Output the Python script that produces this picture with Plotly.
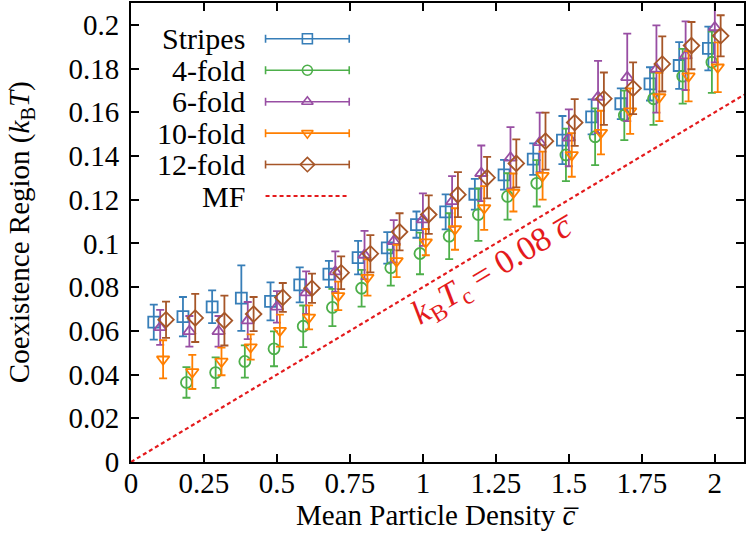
import numpy as np
import plotly.graph_objects as go

# mean particle density (bin centres)
density = [round(0.1 * i, 1) for i in range(1, 21)]

stripes = [0.064, 0.0665, 0.071, 0.075, 0.0735, 0.081, 0.086, 0.0935, 0.098, 0.1086,
           0.1144, 0.1225, 0.1314, 0.1386, 0.1473, 0.1579, 0.1639, 0.173, 0.1814, 0.1892]
stripes_err = [0.008, 0.009, 0.0075, 0.015, 0.0087, 0.008, 0.006, 0.0077, 0.0072, 0.006,
               0.008, 0.007, 0.0068, 0.0072, 0.011, 0.008, 0.007, 0.0076, 0.0107, 0.010]

# 4-fold has no point at 0.1
fold4 = [None, 0.0364, 0.0409, 0.046, 0.0518, 0.0621, 0.0707, 0.0795, 0.0889, 0.0954,
         0.1033, 0.1132, 0.1215, 0.1275, 0.1405, 0.1488, 0.1586, 0.1662, 0.1765, 0.1829]
fold4_err = [None, 0.007, 0.007, 0.0074, 0.008, 0.0095, 0.0085, 0.0084, 0.0082, 0.0095,
             0.0105, 0.012, 0.0106, 0.0106, 0.012, 0.013, 0.0113, 0.012, 0.0125, 0.014]

fold6 = [0.0616, 0.0598, 0.0598, 0.0647, 0.071, 0.0775, 0.0871, 0.0947, 0.101, 0.1109,
         0.1192, 0.1321, 0.1392, 0.1462, 0.1483, 0.167, 0.176, 0.1798, 0.1859, 0.1988]
fold6_err = [0.008, 0.007, 0.007, 0.0085, 0.0072, 0.0097, 0.0093, 0.011, 0.0097, 0.012,
             0.0116, 0.0127, 0.014, 0.0136, 0.013, 0.0165, 0.02, 0.02, 0.0157, 0.016]

fold10 = [0.047, 0.0412, 0.046, 0.0526, 0.0601, 0.0662, 0.076, 0.0844, 0.092, 0.1006,
          0.1066, 0.1162, 0.1233, 0.131, 0.1405, 0.1507, 0.1605, 0.167, 0.1765, 0.1806]
fold10_err = [0.0087, 0.0078, 0.0063, 0.0058, 0.0073, 0.0055, 0.0065, 0.0083, 0.0074, 0.006,
              0.0095, 0.01, 0.0087, 0.011, 0.01, 0.01, 0.0104, 0.011, 0.0115, 0.0114]

fold12 = [0.0651, 0.0659, 0.0647, 0.0677, 0.0753, 0.0795, 0.0866, 0.0953, 0.1053, 0.1132,
          0.1223, 0.1301, 0.1366, 0.1468, 0.1553, 0.1662, 0.171, 0.1821, 0.1905, 0.195]
fold12_err = [0.0083, 0.011, 0.0114, 0.0078, 0.0066, 0.0067, 0.0075, 0.0085, 0.0085, 0.0088,
              0.0103, 0.0095, 0.011, 0.013, 0.0107, 0.012, 0.0118, 0.0126, 0.0108, 0.0094]

mf_slope = 0.08  # k_B T_c = 0.08 c

names = ["Stripes", "4-fold", "6-fold", "10-fold", "12-fold"]
values = [stripes, fold4, fold6, fold10, fold12]
errors = [stripes_err, fold4_err, fold6_err, fold10_err, fold12_err]

xtick_vals = [0, 0.25, 0.5, 0.75, 1, 1.25, 1.5, 1.75, 2]
xtick_text = ["0", "0.25", "0.5", "0.75", "1", "1.25", "1.5", "1.75", "2"]
ytick_vals = [0, 0.02, 0.04, 0.06, 0.08, 0.1, 0.12, 0.14, 0.16, 0.18, 0.2]
ytick_text = ["0", "0.02", "0.04", "0.06", "0.08", "0.1", "0.12", "0.14", "0.16", "0.18", "0.2"]

# styling
colors = ["#377eb8", "#4daf4a", "#984ea3", "#ff7f00", "#a65628"]
symbols = ["square-open", "circle-open", "triangle-up-open", "triangle-down-open", "diamond-open"]
msizes = [11, 11, 11, 11, 12]
offsets = [-0.022, -0.01, 0.0, 0.01, 0.02]  # small shift so bars don't overlap
red = "#e41a1c"
font = "Liberation Serif"
xmax, ymax = 2.1, 0.21

fig = go.Figure()

for name, ys, es, col, sym, ms, off in zip(names, values, errors, colors, symbols, msizes, offsets):
    xs = [d + off for d in density]
    fig.add_trace(go.Scatter(
        x=xs, y=ys, mode="markers", name=name, showlegend=False,
        marker=dict(symbol=sym, size=ms, color=col, line=dict(width=1.8, color=col)),
        error_y=dict(type="data", array=es, visible=True, color=col, thickness=1.8, width=4),
    ))

mf_x = np.array([0, xmax])
fig.add_trace(go.Scatter(
    x=mf_x, y=mf_slope * mf_x, mode="lines", name="MF", showlegend=False,
    line=dict(color=red, width=2.2, dash="4px,3px"),
))

# gnuplot-style key: text on the left, sample on the right (overlay axis in 0..1 units)
key_top, key_step = 0.922, 0.0685
key_x0, key_x1 = 0.2195, 0.356
key_text_x = 0.1886
labels = names + ["MF"]
for i, lab in enumerate(labels):
    yk = key_top - i * key_step
    fig.add_annotation(x=key_text_x, y=yk, xref="x2", yref="y2", text=lab, showarrow=False,
                       xanchor="right", yanchor="middle", font=dict(family=font, size=30, color="black"))
    if i < len(names):
        fig.add_trace(go.Scatter(
            x=[(key_x0 + key_x1) / 2], y=[yk], xaxis="x2", yaxis="y2", mode="markers",
            showlegend=False, hoverinfo="skip",
            marker=dict(symbol=symbols[i], size=msizes[i] - 1, color=colors[i],
                        line=dict(width=1.6, color=colors[i])),
            error_x=dict(type="constant", value=(key_x1 - key_x0) / 2, color=colors[i],
                         thickness=1.6, width=4),
        ))
    else:
        fig.add_trace(go.Scatter(
            x=[key_x0, key_x1], y=[yk, yk], xaxis="x2", yaxis="y2", mode="lines",
            showlegend=False, hoverinfo="skip", line=dict(color=red, width=2.2, dash="4px,3px"),
        ))

fig.add_annotation(
    x=1.245, y=0.088, xref="x", yref="y", showarrow=False, textangle=-31,
    text="<i>k</i><sub>B</sub><i>T</i><sub>c</sub> = 0.08 <i>c\u0305</i>",
    font=dict(family=font, size=34, color=red),
)

# axis titles placed as annotations (paper coords relative to the plot area)
fig.add_annotation(
    x=-0.18, y=0.5, xref="paper", yref="paper", showarrow=False, textangle=-90,
    xanchor="center", yanchor="middle",
    text="Coexistence Region (<i>k</i><sub>B</sub><i>T</i>)",
    font=dict(family=font, size=29, color="black"),
)
fig.add_annotation(
    x=0.5, y=-0.115, xref="paper", yref="paper", showarrow=False,
    xanchor="center", yanchor="middle",
    text="Mean Particle Density <i>c\u0305</i>",
    font=dict(family=font, size=29, color="black"),
)

axis_common = dict(
    showline=True, linecolor="black", linewidth=2, mirror="ticks",
    ticks="inside", ticklen=8, tickwidth=2, tickcolor="black",
    showgrid=False, zeroline=False,
    tickfont=dict(family=font, size=29, color="black"),
)

fig.update_layout(
    width=747, height=537,
    margin=dict(l=131, r=2, t=1, b=75),
    plot_bgcolor="white", paper_bgcolor="white",
    font=dict(family=font),
    xaxis=dict(range=[0, xmax], tickvals=xtick_vals, ticktext=xtick_text,
               ticklabelstandoff=-6, **axis_common),
    yaxis=dict(range=[0, ymax], tickvals=ytick_vals, ticktext=ytick_text,
               ticklabelstandoff=4, **axis_common),
    xaxis2=dict(range=[0, 1], overlaying="x", visible=False, fixedrange=True),
    yaxis2=dict(range=[0, 1], overlaying="y", visible=False, fixedrange=True),
)

# page body has a default 8px margin; drop it so the figure sits at the window corner
fig.write_html("out.html", config={"displayModeBar": False},
               post_script="document.body.style.margin='0';")
